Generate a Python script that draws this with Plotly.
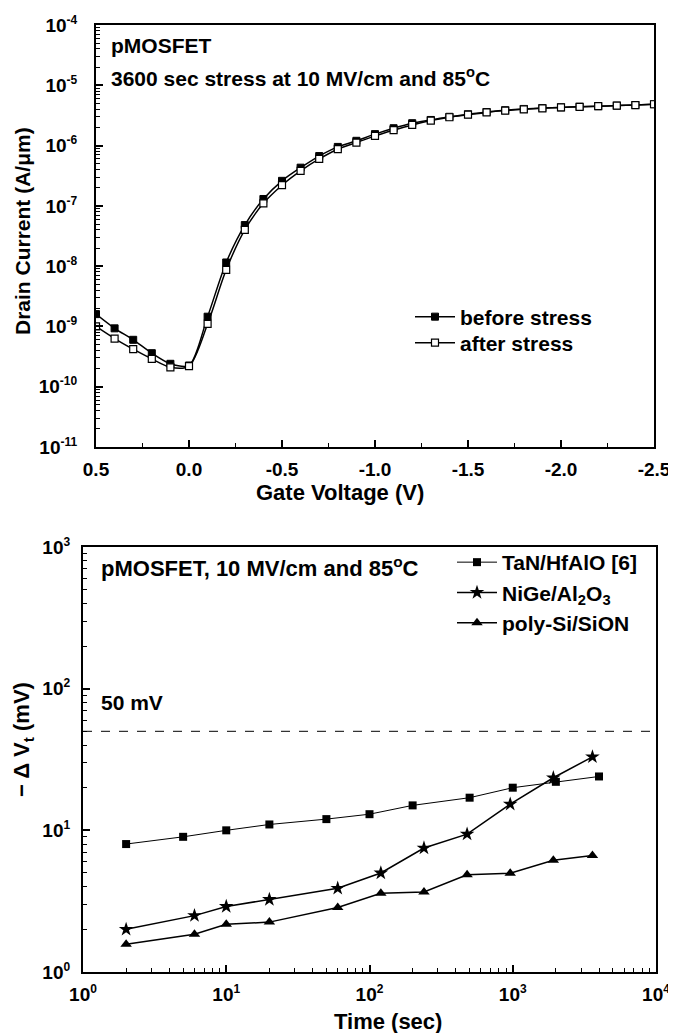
import plotly.graph_objects as go

# page has an 8px body margin, so the figure is drawn in the remaining area
OFF = 8
W, H = 676 - OFF, 1033 - OFF
def fx(p): return (p - OFF) / W
def fy(p): return 1 - (p - OFF) / H

FONT = "Liberation Sans, Arial, Helvetica, sans-serif"

# ---------------- top panel data ----------------
gate_voltage = [0.5, 0.4, 0.3, 0.2, 0.1, 0.0, -0.1, -0.2, -0.3, -0.4, -0.5,
                -0.6, -0.7, -0.8, -0.9, -1.0, -1.1, -1.2, -1.3, -1.4, -1.5,
                -1.6, -1.7, -1.8, -1.9, -2.0, -2.1, -2.2, -2.3, -2.4, -2.5]
id_before = [1.6e-9, 9.3e-10, 6.0e-10, 3.6e-10, 2.4e-10, 2.25e-10, 1.45e-9, 1.15e-8,
             4.8e-8, 1.3e-7, 2.6e-7, 4.3e-7, 6.7e-7, 9.5e-7, 1.2e-6, 1.55e-6,
             1.94e-6, 2.35e-6, 2.66e-6, 3.0e-6, 3.3e-6, 3.6e-6, 3.85e-6, 4.05e-6,
             4.2e-6, 4.3e-6, 4.4e-6, 4.5e-6, 4.6e-6, 4.7e-6, 4.85e-6]
id_after = [1.0e-9, 6.3e-10, 4.2e-10, 2.9e-10, 2.1e-10, 2.2e-10, 1.1e-9, 8.7e-9,
            4.0e-8, 1.1e-7, 2.2e-7, 3.8e-7, 6.0e-7, 8.7e-7, 1.12e-6, 1.45e-6,
            1.8e-6, 2.2e-6, 2.6e-6, 2.95e-6, 3.25e-6, 3.55e-6, 3.8e-6, 4.0e-6,
            4.15e-6, 4.3e-6, 4.4e-6, 4.5e-6, 4.6e-6, 4.7e-6, 4.85e-6]
vg_ticks = [0.5, 0.0, -0.5, -1.0, -1.5, -2.0, -2.5]
vg_ticktext = ["0.5", "0.0", "-0.5", "-1.0", "-1.5", "-2.0", "-2.5"]
vg_minor = [0.25, -0.25, -0.75, -1.25, -1.75, -2.25]
id_exponents = [-11, -10, -9, -8, -7, -6, -5, -4]

# ---------------- bottom panel data ----------------
t_tan = [2, 5, 10, 20, 50, 100, 200, 500, 1000, 2000, 4000]
dv_tan = [8.0, 9.0, 10.0, 11.0, 12.0, 13.0, 15.0, 17.0, 20.0, 22.0, 24.0]
t_nige = [2, 6, 10, 20, 60, 120, 240, 480, 960, 1920, 3600]
dv_nige = [2.0, 2.5, 2.9, 3.25, 3.9, 5.0, 7.5, 9.4, 15.3, 23.5, 33.0]
t_poly = [2, 6, 10, 20, 60, 120, 240, 480, 960, 1920, 3600]
dv_poly = [1.57, 1.85, 2.17, 2.25, 2.85, 3.6, 3.67, 4.85, 4.98, 6.15, 6.65]
limit_mv = 50
time_exponents = [0, 1, 2, 3, 4]
dv_exponents = [0, 1, 2, 3]

def log_minor(exps):
    out = []
    for e in exps[:-1]:
        for m in range(2, 10):
            out.append(m * 10.0 ** e)
    return out

def pow_label(e):
    return "10<sup><span style='font-size:12px'>%d</span></sup>" % e

LEGFONT = dict(family=FONT, size=21, color="black", weight="bold")

fig = go.Figure()

fig.add_trace(go.Scatter(
    x=gate_voltage, y=id_before, mode="lines+markers", name="before stress",
    line=dict(color="black", width=1.5, shape="spline", smoothing=0.8),
    marker=dict(symbol="square", size=7, color="black", line=dict(color="black", width=1)),
    xaxis="x", yaxis="y", legend="legend"))
fig.add_trace(go.Scatter(
    x=gate_voltage, y=id_after, mode="lines+markers", name="after stress",
    line=dict(color="black", width=1.5, shape="spline", smoothing=0.8),
    marker=dict(symbol="square", size=7, color="white", line=dict(color="black", width=1.2)),
    xaxis="x", yaxis="y", legend="legend2"))

fig.add_trace(go.Scatter(
    x=[10 ** time_exponents[0], 10 ** time_exponents[-1]], y=[limit_mv, limit_mv],
    mode="lines", line=dict(color="black", width=1, dash="dash"),
    showlegend=False, xaxis="x2", yaxis="y2", hoverinfo="skip"))
fig.add_trace(go.Scatter(
    x=t_tan, y=dv_tan, mode="lines+markers", name="TaN/HfAlO [6]",
    line=dict(color="black", width=1),
    marker=dict(symbol="square", size=8, color="black"),
    xaxis="x2", yaxis="y2", legend="legend3"))
fig.add_trace(go.Scatter(
    x=t_nige, y=dv_nige, mode="lines+markers", name="NiGe/Al<sub>2</sub>O<sub>3</sub>",
    line=dict(color="black", width=1.5),
    marker=dict(symbol="star", size=11, color="black"),
    xaxis="x2", yaxis="y2", legend="legend3"))
fig.add_trace(go.Scatter(
    x=t_poly, y=dv_poly, mode="lines+markers", name="poly-Si/SiON",
    line=dict(color="black", width=1.5),
    marker=dict(symbol="triangle-up", size=10, color="black"),
    xaxis="x2", yaxis="y2", legend="legend3"))

tickfont = dict(family=FONT, size=19, color="black", weight="bold")
common = dict(showgrid=False, zeroline=False, showline=True, linecolor="black",
              linewidth=2, mirror=True, ticks="inside", ticklen=7, tickwidth=1.5,
              tickcolor="black", tickfont=tickfont, automargin=False)
minor_style = dict(ticks="inside", ticklen=4, tickwidth=1.2, tickcolor="black")

fig.update_layout(
    width=W, height=H, paper_bgcolor="white", plot_bgcolor="white",
    margin=dict(l=0, r=0, t=0, b=0),
    xaxis=dict(domain=[fx(96), fx(654)], anchor="y", range=[0.5, -2.5],
               tickvals=vg_ticks, ticktext=vg_ticktext, ticklabelstandoff=4,
               minor=dict(tickvals=vg_minor, **minor_style), **common),
    yaxis=dict(domain=[fy(447), fy(25)], anchor="x", type="log", range=[-11, -4],
               tickvals=[10.0 ** e for e in id_exponents],
               ticktext=[pow_label(e) for e in id_exponents], ticklabelstandoff=13,
               minor=dict(tickvals=log_minor(id_exponents), **minor_style), **common),
    xaxis2=dict(domain=[fx(83), fx(656)], anchor="y2", type="log", range=[0, 4],
                tickvals=[10.0 ** e for e in time_exponents],
                ticktext=[pow_label(e) for e in time_exponents], ticklabelstandoff=4,
                minor=dict(tickvals=log_minor(time_exponents), **minor_style), **common),
    yaxis2=dict(domain=[fy(972), fy(547)], anchor="x2", type="log", range=[0, 3],
                tickvals=[10.0 ** e for e in dv_exponents],
                ticktext=[pow_label(e) for e in dv_exponents], ticklabelstandoff=7,
                minor=dict(tickvals=log_minor(dv_exponents), **minor_style), **common),
    legend=dict(x=fx(410), y=fy(317), xanchor="left", yanchor="middle",
                bgcolor="rgba(0,0,0,0)", font=LEGFONT, itemwidth=40),
    legend2=dict(x=fx(410), y=fy(343), xanchor="left", yanchor="middle",
                 bgcolor="rgba(0,0,0,0)", font=LEGFONT, itemwidth=40),
    legend3=dict(x=fx(452), y=fy(542), xanchor="left", yanchor="top",
                 bgcolor="rgba(0,0,0,0)", font=LEGFONT, tracegroupgap=0, itemwidth=40),
)

annots = [
    dict(text="pMOSFET", x=fx(109), y=fy(45), size=21),
    dict(text="3600 sec stress at 10 MV/cm and 85<sup>o</sup>C", x=fx(109), y=fy(77), size=21),
    dict(text="pMOSFET, 10 MV/cm and 85<sup>o</sup>C", x=fx(99), y=fy(567), size=22),
    dict(text="50 mV", x=fx(99), y=fy(702), size=21),
]
for a in annots:
    fig.add_annotation(text=a["text"], x=a["x"], y=a["y"], xref="paper", yref="paper",
                       xanchor="left", yanchor="middle", showarrow=False,
                       font=dict(family=FONT, size=a["size"], color="black", weight="bold"))

def tfont(size):
    return dict(family=FONT, size=size, color="black", weight="bold")

fig.add_annotation(text="Gate Voltage (V)", x=fx(340), y=fy(492), xref="paper", yref="paper",
                   xanchor="center", yanchor="middle", showarrow=False, font=tfont(22))
fig.add_annotation(text="Drain Current (A/μm)", x=fx(23), y=fy(231), xref="paper", yref="paper",
                   xanchor="center", yanchor="middle", showarrow=False, font=tfont(21), textangle=-90)
fig.add_annotation(text="Time (sec)", x=fx(388), y=fy(1021), xref="paper", yref="paper",
                   xanchor="center", yanchor="middle", showarrow=False, font=tfont(22))
fig.add_annotation(text="− Δ V<sub>t</sub> (mV)", x=fx(23), y=fy(740), xref="paper", yref="paper",
                   xanchor="center", yanchor="middle", showarrow=False, font=tfont(22), textangle=-90)

fig.write_html("out.html")
